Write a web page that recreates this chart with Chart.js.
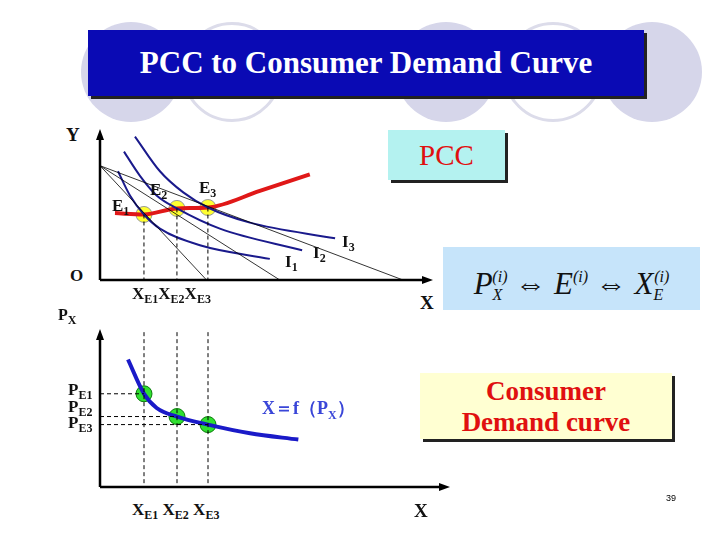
<!DOCTYPE html>
<html>
<head>
<meta charset="utf-8">
<script src="https://cdn.jsdelivr.net/npm/chart.js"></script>
<style>
  body { margin: 0; background: #fff; }
  #slide { position: relative; width: 720px; height: 540px; overflow: hidden; font-family: "Liberation Serif", "DejaVu Serif Condensed", "DejaVu Serif", serif; }
  .ring { position: absolute; width: 100px; height: 100px; border-radius: 50%; box-sizing: border-box; }
  .lbl { position: absolute; font-weight: bold; color: #111; font-size: 19px; white-space: nowrap; }
  .lbl sub { font-size: 12px; }
  .box { position: absolute; box-shadow: 3px 3px 0 #222; font-weight: bold; }
  canvas { position: absolute; }
</style>
</head>
<body>
<div id="slide">
  <div class="ring" style="left:81px;top:22px;background:#d6d6ea"></div>
  <div class="ring" style="left:182px;top:22px;border:3px solid #dcdcea"></div>
  <div class="ring" style="left:396px;top:22px;background:#d6d6ea"></div>
  <div class="ring" style="left:503px;top:22px;border:3px solid #dcdcea"></div>
  <div class="ring" style="left:602px;top:22px;background:#d6d6ea"></div>
  <div class="box" style="left:88px;top:30px;width:556px;height:66px;background:#0a0ab4;color:#fff;font-size:31px;text-align:center;line-height:66px;">PCC to Consumer Demand Curve</div>

  <div class="box" style="left:388px;top:130px;width:117px;height:50px;background:#b4f2f0;color:#e01010;font-size:29px;text-align:center;line-height:50px;font-weight:normal;">PCC</div>
  <div style="position:absolute;left:443px;top:247px;width:257px;height:63px;background:#c6e4fa;color:#111;font-size:31px;line-height:60px;text-align:center;font-style:italic;">P<sub style="font-size:16px;vertical-align:-6px">X</sub><sup style="font-size:16px;vertical-align:12px;margin-left:-10px">(i)</sup> &#8660; E<sup style="font-size:16px;vertical-align:12px">(i)</sup> &#8660; X<sub style="font-size:16px;vertical-align:-6px">E</sub><sup style="font-size:16px;vertical-align:12px;margin-left:-9px">(i)</sup></div>
  <div class="box" style="left:420px;top:373px;width:252px;height:66px;background:#ffffd2;color:#e01010;font-size:27px;text-align:center;line-height:31px;padding-top:3px;box-sizing:border-box;">Consumer<br>Demand curve</div>

  <canvas id="top" width="360" height="170" style="left:90px;top:120px"></canvas>
  <canvas id="bot" width="370" height="176" style="left:90px;top:320px"></canvas>

  <div class="lbl" style="left:66px;top:124px">Y</div>
  <div class="lbl" style="left:70px;top:266px;font-size:17px">O</div>
  <div class="lbl" style="left:420px;top:292px">X</div>
  <div class="lbl" style="left:112px;top:196px;font-size:17px">E<sub>1</sub></div>
  <div class="lbl" style="left:150px;top:180px;font-size:17px">E<sub>2</sub></div>
  <div class="lbl" style="left:199px;top:178px;font-size:17px">E<sub>3</sub></div>
  <div class="lbl" style="left:285px;top:252px;font-size:17px">I<sub>1</sub></div>
  <div class="lbl" style="left:313px;top:243px;font-size:17px">I<sub>2</sub></div>
  <div class="lbl" style="left:342px;top:232px;font-size:17px">I<sub>3</sub></div>
  <div class="lbl" style="left:132px;top:284px;font-size:17px">X<sub>E1</sub>X<sub>E2</sub>X<sub>E3</sub></div>
  <div class="lbl" style="left:58px;top:306px;font-size:16px">P<sub>X</sub></div>
  <div class="lbl" style="left:68px;top:380px;font-size:17px">P<sub>E1</sub></div>
  <div class="lbl" style="left:68px;top:397px;font-size:17px">P<sub>E2</sub></div>
  <div class="lbl" style="left:68px;top:413px;font-size:17px">P<sub>E3</sub></div>
  <div class="lbl" style="left:262px;top:396px;font-size:18px;color:#3a46d8">X＝f（P<sub>X</sub>）</div>
  <div class="lbl" style="left:132px;top:500px;font-size:17px">X<sub>E1</sub> X<sub>E2</sub> X<sub>E3</sub></div>
  <div class="lbl" style="left:414px;top:500px">X</div>
  <div style="position:absolute;left:666px;top:493px;font-size:9px;font-family:'Liberation Sans'">39</div>
</div>
<script>
// top panel: budget lines, indifference curves, PCC
const yIntercept = 75.7;
const budgetXInt = [32, 54, 91];
const xE = [13.2, 23.1, 32.4];
const yE = [43.4, 47.4, 48];
const pccX = [4.5, 13.2, 23.1, 32.4, 48, 63];
const pccY = [44.3, 43.4, 47.4, 48, 59, 70];
const i1X = [5.4, 9, 13.2, 18, 30, 51];
const i1Y = [72, 56, 43.4, 34, 23, 14];
const i2X = [7.2, 12, 17, 23.1, 36, 60.7];
const i2Y = [85, 69, 56, 47.4, 34, 19.7];
const i3X = [10.5, 18, 25, 32.4, 45, 70.6];
const i3Y = [95, 72, 58, 48, 38, 27.6];
// bottom panel: demand curve
const pE = [59, 44.6, 39.5];
const demX = [8.4, 13.2, 17, 23.1, 32.4, 45, 59.5];
const demY = [80.7, 59, 50, 44.6, 39.5, 34, 30];

const pts = (xs, ys) => xs.map((x, i) => ({ x, y: ys[i] }));

const axesPlugin = {
  id: 'axes',
  afterDatasetsDraw(c) {
    const a = c.chartArea, g = c.ctx;
    g.save();
    g.strokeStyle = '#000'; g.fillStyle = '#000'; g.lineWidth = 2.5;
    g.beginPath(); g.moveTo(a.left, a.bottom); g.lineTo(a.right - 8, a.bottom);
    g.moveTo(a.left, a.bottom); g.lineTo(a.left, a.top + 8); g.stroke();
    g.beginPath(); g.moveTo(a.right, a.bottom); g.lineTo(a.right - 11, a.bottom - 4); g.lineTo(a.right - 11, a.bottom + 4); g.fill();
    g.beginPath(); g.moveTo(a.left, a.top); g.lineTo(a.left - 4, a.top + 11); g.lineTo(a.left + 4, a.top + 11); g.fill();
    g.restore();
  }
};

function opts(pad, xmax) {
  return {
    responsive: false, animation: false, events: [],
    layout: { padding: pad },
    plugins: { legend: { display: false }, tooltip: { enabled: false } },
    scales: {
      x: { type: 'linear', min: 0, max: xmax, display: false },
      y: { type: 'linear', min: 0, max: 100, display: false }
    }
  };
}
const line = (data, color, w, extra) => Object.assign({ type: 'line', data, borderColor: color, borderWidth: w, pointRadius: 0, fill: false, clip: false }, extra || {});

const topSets = [];
budgetXInt.forEach(b => topSets.push(line([{ x: 0, y: yIntercept }, { x: b, y: 0 }], '#000', 0.8)));
xE.forEach((x, i) => topSets.push(line([{ x, y: yE[i] }, { x, y: 0 }], '#000', 1, { borderDash: [4, 3] })));
[[i1X, i1Y], [i2X, i2Y], [i3X, i3Y]].forEach(([xs, ys]) => topSets.push(line(pts(xs, ys), '#1a1a8c', 2, { tension: 0.4, cubicInterpolationMode: 'monotone' })));
topSets.push(line(pts(pccX, pccY), '#e01818', 4, { tension: 0.4, cubicInterpolationMode: 'monotone' }));
topSets.push({ type: 'scatter', data: pts(xE, yE), pointRadius: 8, backgroundColor: '#ffff30', borderColor: '#999', borderWidth: 1, clip: false });

new Chart(document.getElementById('top'), {
  type: 'scatter', data: { datasets: topSets },
  options: opts({ left: 10, top: 8, right: 17, bottom: 10 }, 100), plugins: [axesPlugin]
});

const botSets = [];
xE.forEach(x => botSets.push(line([{ x, y: 98 }, { x, y: 0 }], '#000', 1, { borderDash: [4, 3] })));
pE.forEach((p, i) => botSets.push(line([{ x: 0, y: p }, { x: xE[i], y: p }], '#000', 1, { borderDash: [4, 3] })));
botSets.push(line(pts(demX, demY), '#1a1ac8', 4, { tension: 0.4, cubicInterpolationMode: 'monotone' }));
botSets.push({ type: 'scatter', data: pts(xE, pE), pointRadius: 8, backgroundColor: '#30e030', borderColor: '#0a7a0a', borderWidth: 1, clip: false });

new Chart(document.getElementById('bot'), {
  type: 'scatter', data: { datasets: botSets },
  options: opts({ left: 10, top: 5, right: 10, bottom: 5 }, 105), plugins: [axesPlugin]
});
</script>
</body>
</html>
